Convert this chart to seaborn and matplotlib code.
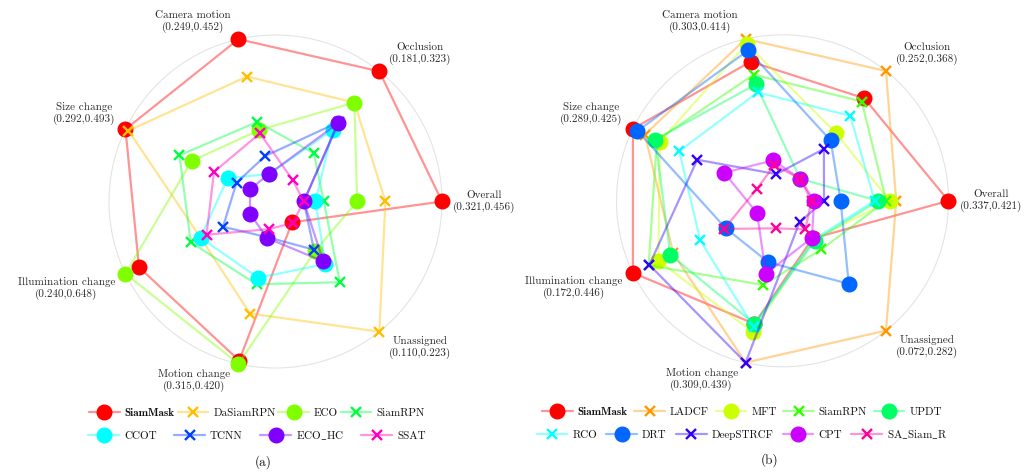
import numpy as np
import matplotlib
matplotlib.use("Agg")
import matplotlib.pyplot as plt
from matplotlib.lines import Line2D
import seaborn as sns

# attribute axes, counter-clockwise from the right
attributes = ["Overall", "Occlusion", "Camera motion", "Size change",
              "Illumination change", "Motion change", "Unassigned"]

# (min, max) EAO per attribute, printed under each axis name
ranges_a = [(0.321, 0.456), (0.181, 0.323), (0.249, 0.452), (0.292, 0.493),
            (0.240, 0.648), (0.315, 0.420), (0.110, 0.223)]
ranges_b = [(0.337, 0.421), (0.252, 0.368), (0.303, 0.414), (0.289, 0.425),
            (0.172, 0.446), (0.309, 0.439), (0.072, 0.282)]

# (a) VOT2016 -- normalised score per attribute (1 = attribute max)
trackers_a = ["SiamMask", "DaSiamRPN", "ECO", "SiamRPN", "CCOT", "TCNN", "ECO_HC", "SSAT"]
siammask_a = [1.00, 1.00, 1.00, 1.00, 0.91, 0.98, 0.16]
dasiamrpn_a = [0.66, 0.76, 0.77, 0.98, 0.50, 0.69, 1.00]
eco_a = [0.49, 0.76, 0.44, 0.56, 1.00, 1.00, 0.38]
siamrpn_a = [0.29, 0.37, 0.49, 0.64, 0.565, 0.51, 0.62]
ccot_a = [0.24, 0.55, 0.17, 0.32, 0.50, 0.47, 0.48]
tcnn_a = [0.17, 0.61, 0.28, 0.26, 0.35, 0.22, 0.37]
eco_hc_a = [0.17, 0.60, 0.17, 0.17, 0.17, 0.225, 0.46]
ssat_a = [0.17, 0.165, 0.42, 0.41, 0.46, 0.17, 0.165]
scores_a = [siammask_a, dasiamrpn_a, eco_a, siamrpn_a, ccot_a, tcnn_a, eco_hc_a, ssat_a]

# (b) VOT2018
trackers_b = ["SiamMask", "LADCF", "MFT", "SiamRPN", "UPDT",
              "RCO", "DRT", "DeepSTRCF", "CPT", "SA_Siam_R"]
siammask_b = [1.00, 0.79, 0.86, 1.00, 1.00, 0.76, 0.29]
ladcf_b = [0.685, 1.00, 1.00, 0.92, 0.73, 1.00, 1.00]
mft_b = [0.645, 0.52, 0.97, 0.82, 0.83, 0.81, 0.30]
siamrpn_b = [0.625, 0.765, 0.78, 0.84, 0.895, 0.52, 0.375]
updt_b = [0.575, 0.17, 0.72, 0.85, 0.75, 0.76, 0.31]
rco_b = [0.555, 0.655, 0.67, 0.69, 0.55, 0.78, 0.30]
drt_b = [0.35, 0.465, 0.93, 0.97, 0.38, 0.38, 0.64]
deepstrcf_b = [0.25, 0.40, 0.165, 0.57, 0.89, 1.00, 0.165]
cpt_b = [0.19, 0.17, 0.25, 0.39, 0.17, 0.45, 0.285]
sa_siam_r_b = [0.175, 0.17, 0.22, 0.17, 0.39, 0.17, 0.22]
scores_b = [siammask_b, ladcf_b, mft_b, siamrpn_b, updt_b,
            rco_b, drt_b, deepstrcf_b, cpt_b, sa_siam_r_b]

sns.set_theme(style="white")
plt.rcParams["font.family"] = ["cmr10", "DejaVu Serif"]
plt.rcParams["mathtext.fontset"] = "cm"
plt.rcParams["axes.unicode_minus"] = False

LINE_ALPHA = 0.42
TEXT_COLOR = "#2a2a2a"

# label anchor (angle in deg, radius, horizontal alignment)
label_pos = [(0.0, 1.066, "left"), (52.4, 1.118, "left"), (104.0, 1.114, "right"),
             (151.3, 1.099, "right"), (208.5, 1.097, "right"), (255.9, 1.108, "right"),
             (307.9, 1.113, "left")]


def draw_radar(ax, names, scores, ranges):
    palette = sns.hls_palette(len(names), h=0, l=0.5, s=1.0)
    theta = np.linspace(0, 2 * np.pi, len(attributes), endpoint=False)
    closed = np.append(theta, theta[0])
    handles = []
    for i, (name, vals) in enumerate(zip(names, scores)):
        col = tuple(palette[i])
        mk = "o" if i % 2 == 0 else "x"
        kw = dict(color=(*col, LINE_ALPHA), lw=1.6, marker=mk, mfc=col, mec=col,
                  ms=10.5 if mk == "o" else 7.5, mew=1.0 if mk == "o" else 1.7)
        ax.plot(closed, np.append(vals, vals[0]), markevery=slice(0, len(vals)),
                clip_on=False, zorder=3 + i, **kw)
        # cmr10 has no plain underscore glyph, so go through mathtext for it
        handles.append(Line2D([], [], label=name.replace("_", r"$\_$"), **kw))

    ax.set_ylim(0, 1)
    ax.set_xticks([])
    ax.set_yticks([])
    ax.grid(False)
    ax.set_facecolor("none")
    ax.spines["polar"].set_color("#e4e4e4")
    ax.spines["polar"].set_linewidth(0.8)

    for (ang, rad, ha), name, (lo, hi) in zip(label_pos, attributes, ranges):
        ax.text(np.deg2rad(ang), rad, f"{name}\n({lo:.3f},{hi:.3f})", ha=ha, va="center",
                multialignment="center", fontsize=8, color=TEXT_COLOR)
    return handles


def add_legend_rows(fig, handles, rows, x, ys, spacings):
    for row, y, sp in zip(rows, ys, spacings):
        hs = [handles[i] for i in row]
        leg = fig.legend(handles=hs, loc="center", bbox_to_anchor=(x, y), ncol=len(hs),
                         frameon=False, fontsize=8, handlelength=2.75, handletextpad=0.45,
                         columnspacing=sp, borderpad=0, borderaxespad=0)
        for t in leg.get_texts():
            t.set_color("#111111")
            if t.get_text() == "SiamMask":
                t.set_fontfamily(["cmb10", "DejaVu Serif"])


fig = plt.figure(figsize=(10.24, 4.72), dpi=100)
ax_a = fig.add_axes([0.10645, 0.22034, 0.3252, 0.70551], projection="polar")
ax_b = fig.add_axes([0.60205, 0.22288, 0.32422, 0.70339], projection="polar")

h_a = draw_radar(ax_a, trackers_a, scores_a, ranges_a)
h_b = draw_radar(ax_b, trackers_b, scores_b, ranges_b)

add_legend_rows(fig, h_a, [range(0, 4), range(4, 8)], 257 / 1024,
                [1 - 412.7 / 472, 1 - 435.3 / 472], [0.25, 1.6])
add_legend_rows(fig, h_b, [range(0, 5), range(5, 10)], 742 / 1024,
                [1 - 412 / 472, 1 - 434.7 / 472], [0.6, 0.85])

fig.text(263 / 1024, 1 - 462 / 472, "(a)", ha="center", va="center", fontsize=9.5, color="#111111")
fig.text(770 / 1024, 1 - 460 / 472, "(b)", ha="center", va="center", fontsize=9.5, color="#111111")

fig.savefig("out.png", dpi=100, facecolor="white")
